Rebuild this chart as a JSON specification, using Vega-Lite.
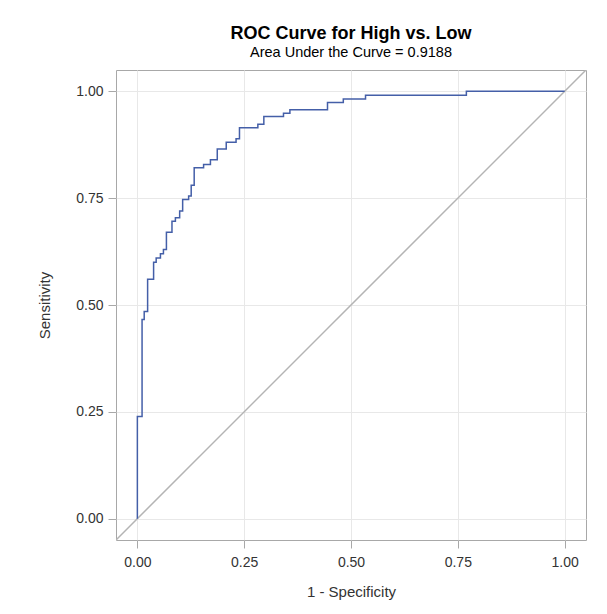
{
  "$schema": "https://vega.github.io/schema/vega-lite/v6.json",
  "autosize": {"type": "none"},
  "width": 470,
  "height": 470,
  "padding": {"left": 116, "top": 70, "right": 21, "bottom": 74},
  "background": "white",
  "title": {
    "text": "ROC Curve for High vs. Low",
    "subtitle": "Area Under the Curve = 0.9188",
    "anchor": "middle",
    "font": "Liberation Sans",
    "fontSize": 18,
    "fontWeight": "bold",
    "color": "#000000",
    "subtitleFont": "Liberation Sans",
    "subtitleFontSize": 14.5,
    "subtitleColor": "#000000",
    "subtitlePadding": 3,
    "offset": 11
  },
  "config": {
    "view": {"stroke": "#a8a8a8", "strokeWidth": 1},
    "axis": {
      "labelFont": "Liberation Sans",
      "titleFont": "Liberation Sans",
      "labelFontSize": 14,
      "titleFontSize": 15,
      "titleFontWeight": "normal",
      "labelColor": "#333333",
      "titleColor": "#333333",
      "gridColor": "#e8e8e8",
      "gridWidth": 1,
      "tickColor": "#a8a8a8",
      "tickSize": 8,
      "domain": false,
      "labelPadding": 5
    }
  },
  "datasets": {
    "roc": [
      {"fpr": 0.0, "sens": 0.0},
      {"fpr": 0.0, "sens": 0.239},
      {"fpr": 0.011, "sens": 0.466},
      {"fpr": 0.016, "sens": 0.485},
      {"fpr": 0.024, "sens": 0.56},
      {"fpr": 0.038, "sens": 0.6},
      {"fpr": 0.044, "sens": 0.61},
      {"fpr": 0.054, "sens": 0.62},
      {"fpr": 0.061, "sens": 0.63},
      {"fpr": 0.068, "sens": 0.67},
      {"fpr": 0.081, "sens": 0.696},
      {"fpr": 0.089, "sens": 0.704},
      {"fpr": 0.099, "sens": 0.72},
      {"fpr": 0.106, "sens": 0.747},
      {"fpr": 0.12, "sens": 0.755},
      {"fpr": 0.126, "sens": 0.78},
      {"fpr": 0.133, "sens": 0.821},
      {"fpr": 0.155, "sens": 0.829},
      {"fpr": 0.171, "sens": 0.84},
      {"fpr": 0.187, "sens": 0.865},
      {"fpr": 0.208, "sens": 0.881},
      {"fpr": 0.231, "sens": 0.889},
      {"fpr": 0.239, "sens": 0.915},
      {"fpr": 0.282, "sens": 0.923},
      {"fpr": 0.296, "sens": 0.941},
      {"fpr": 0.342, "sens": 0.949},
      {"fpr": 0.357, "sens": 0.957},
      {"fpr": 0.445, "sens": 0.974},
      {"fpr": 0.482, "sens": 0.982},
      {"fpr": 0.534, "sens": 0.991},
      {"fpr": 0.77, "sens": 1.0},
      {"fpr": 1.0, "sens": 1.0}
    ],
    "diag": [
      {"fpr": -0.05, "sens": -0.05},
      {"fpr": 1.05, "sens": 1.05}
    ]
  },
  "layer": [
    {
      "data": {"name": "diag"},
      "mark": {"type": "line", "color": "#b4b4b4", "strokeWidth": 1.5, "clip": true},
      "encoding": {
        "x": {"field": "fpr", "type": "quantitative"},
        "y": {"field": "sens", "type": "quantitative"}
      }
    },
    {
      "data": {"name": "roc"},
      "mark": {"type": "line", "color": "#445FA8", "strokeWidth": 1.5, "interpolate": "step-after", "clip": true},
      "encoding": {
        "x": {
          "field": "fpr",
          "type": "quantitative",
          "title": "1 - Specificity",
          "scale": {"domain": [-0.05, 1.05], "nice": false, "zero": false},
          "axis": {"values": [0, 0.25, 0.5, 0.75, 1], "format": ".2f", "labelPadding": 7, "titlePadding": 15}
        },
        "y": {
          "field": "sens",
          "type": "quantitative",
          "title": "Sensitivity",
          "scale": {"domain": [-0.05, 1.05], "nice": false, "zero": false},
          "axis": {"values": [0, 0.25, 0.5, 0.75, 1], "format": ".2f", "titlePadding": 23}
        }
      }
    }
  ]
}
